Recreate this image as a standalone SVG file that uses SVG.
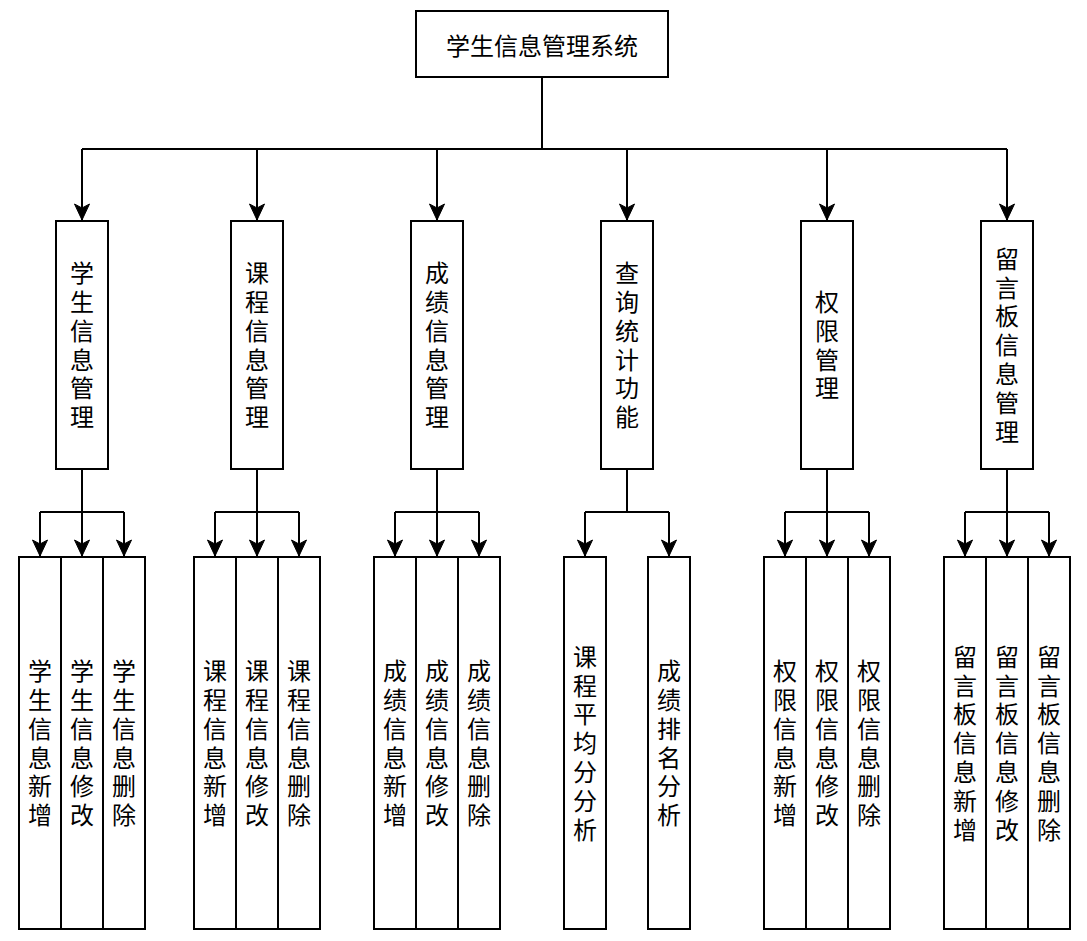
<svg xmlns="http://www.w3.org/2000/svg" width="1087" height="941" viewBox="0 0 1087 941">
<style>
.box{fill:#ffffff;stroke:#000000;stroke-width:2}
.ln{fill:none;stroke:#000000;stroke-width:2}
.t{font-family:"Noto Sans CJK SC","Noto Sans",sans-serif;font-size:24px;fill:#000000;text-anchor:middle;dominant-baseline:central}
.v{font-family:"Noto Sans CJK SC","Noto Sans",sans-serif;font-size:24px;fill:#000000;text-anchor:middle;writing-mode:vertical-rl;text-orientation:upright;letter-spacing:4.8px}
</style>
<defs>
<marker id="arr" markerUnits="userSpaceOnUse" markerWidth="20" markerHeight="20" viewBox="-10 -18 20 20" refX="0" refY="0" orient="0">
<path d="M0,0 L-7.5,-16 L0,-12 L7.5,-16 Z" fill="#000000" stroke="#000000" stroke-width="1"/>
</marker>
</defs>
<rect width="1087" height="941" fill="#ffffff"/>
<g id="connectors">
<path class="ln" d="M542,77 V149 M82,149 H1007"/>
<path class="ln" d="M82,149 V220" marker-end="url(#arr)"/>
<path class="ln" d="M257,149 V220" marker-end="url(#arr)"/>
<path class="ln" d="M437,149 V220" marker-end="url(#arr)"/>
<path class="ln" d="M627,149 V220" marker-end="url(#arr)"/>
<path class="ln" d="M827,149 V220" marker-end="url(#arr)"/>
<path class="ln" d="M1007,149 V220" marker-end="url(#arr)"/>
<path class="ln" d="M82,469 V512 M40,512 H124"/>
<path class="ln" d="M40,512 V556" marker-end="url(#arr)"/>
<path class="ln" d="M82,512 V556" marker-end="url(#arr)"/>
<path class="ln" d="M124,512 V556" marker-end="url(#arr)"/>
<path class="ln" d="M257,469 V512 M215,512 H299"/>
<path class="ln" d="M215,512 V556" marker-end="url(#arr)"/>
<path class="ln" d="M257,512 V556" marker-end="url(#arr)"/>
<path class="ln" d="M299,512 V556" marker-end="url(#arr)"/>
<path class="ln" d="M437,469 V512 M395,512 H479"/>
<path class="ln" d="M395,512 V556" marker-end="url(#arr)"/>
<path class="ln" d="M437,512 V556" marker-end="url(#arr)"/>
<path class="ln" d="M479,512 V556" marker-end="url(#arr)"/>
<path class="ln" d="M627,469 V512 M585,512 H669"/>
<path class="ln" d="M585,512 V556" marker-end="url(#arr)"/>
<path class="ln" d="M669,512 V556" marker-end="url(#arr)"/>
<path class="ln" d="M827,469 V512 M785,512 H869"/>
<path class="ln" d="M785,512 V556" marker-end="url(#arr)"/>
<path class="ln" d="M827,512 V556" marker-end="url(#arr)"/>
<path class="ln" d="M869,512 V556" marker-end="url(#arr)"/>
<path class="ln" d="M1007,469 V512 M965,512 H1049"/>
<path class="ln" d="M965,512 V556" marker-end="url(#arr)"/>
<path class="ln" d="M1007,512 V556" marker-end="url(#arr)"/>
<path class="ln" d="M1049,512 V556" marker-end="url(#arr)"/>
</g>
<g id="root">
<rect class="box" x="416" y="11" width="252" height="66"/>
<text class="t" x="542" y="44">学生信息管理系统</text>
</g>
<g id="n1">
<rect class="box" x="56" y="221" width="52" height="248"/>
<text class="v" x="82" y="347.4">学生信息管理</text>
</g>
<g id="n2">
<rect class="box" x="231" y="221" width="52" height="248"/>
<text class="v" x="257" y="347.4">课程信息管理</text>
</g>
<g id="n3">
<rect class="box" x="411" y="221" width="52" height="248"/>
<text class="v" x="437" y="347.4">成绩信息管理</text>
</g>
<g id="n4">
<rect class="box" x="601" y="221" width="52" height="248"/>
<text class="v" x="627" y="347.4">查询统计功能</text>
</g>
<g id="n5">
<rect class="box" x="801" y="221" width="52" height="248"/>
<text class="v" x="827" y="347.4">权限管理</text>
</g>
<g id="n6">
<rect class="box" x="981" y="221" width="52" height="248"/>
<text class="v" x="1007" y="347.4">留言板信息管理</text>
</g>
<g id="l1a"><rect class="box" x="19" y="557" width="42" height="372"/><text class="v" x="40" y="745.4">学生信息新增</text></g>
<g id="l1b"><rect class="box" x="61" y="557" width="42" height="372"/><text class="v" x="82" y="745.4">学生信息修改</text></g>
<g id="l1c"><rect class="box" x="103" y="557" width="42" height="372"/><text class="v" x="124" y="745.4">学生信息删除</text></g>
<g id="l2a"><rect class="box" x="194" y="557" width="42" height="372"/><text class="v" x="215" y="745.4">课程信息新增</text></g>
<g id="l2b"><rect class="box" x="236" y="557" width="42" height="372"/><text class="v" x="257" y="745.4">课程信息修改</text></g>
<g id="l2c"><rect class="box" x="278" y="557" width="42" height="372"/><text class="v" x="299" y="745.4">课程信息删除</text></g>
<g id="l3a"><rect class="box" x="374" y="557" width="42" height="372"/><text class="v" x="395" y="745.4">成绩信息新增</text></g>
<g id="l3b"><rect class="box" x="416" y="557" width="42" height="372"/><text class="v" x="437" y="745.4">成绩信息修改</text></g>
<g id="l3c"><rect class="box" x="458" y="557" width="42" height="372"/><text class="v" x="479" y="745.4">成绩信息删除</text></g>
<g id="l4a"><rect class="box" x="564" y="557" width="42" height="372"/><text class="v" x="585" y="745.4">课程平均分分析</text></g>
<g id="l4b"><rect class="box" x="648" y="557" width="42" height="372"/><text class="v" x="669" y="745.4">成绩排名分析</text></g>
<g id="l5a"><rect class="box" x="764" y="557" width="42" height="372"/><text class="v" x="785" y="745.4">权限信息新增</text></g>
<g id="l5b"><rect class="box" x="806" y="557" width="42" height="372"/><text class="v" x="827" y="745.4">权限信息修改</text></g>
<g id="l5c"><rect class="box" x="848" y="557" width="42" height="372"/><text class="v" x="869" y="745.4">权限信息删除</text></g>
<g id="l6a"><rect class="box" x="944" y="557" width="42" height="372"/><text class="v" x="965" y="745.4">留言板信息新增</text></g>
<g id="l6b"><rect class="box" x="986" y="557" width="42" height="372"/><text class="v" x="1007" y="745.4">留言板信息修改</text></g>
<g id="l6c"><rect class="box" x="1028" y="557" width="42" height="372"/><text class="v" x="1049" y="745.4">留言板信息删除</text></g>
</svg>
